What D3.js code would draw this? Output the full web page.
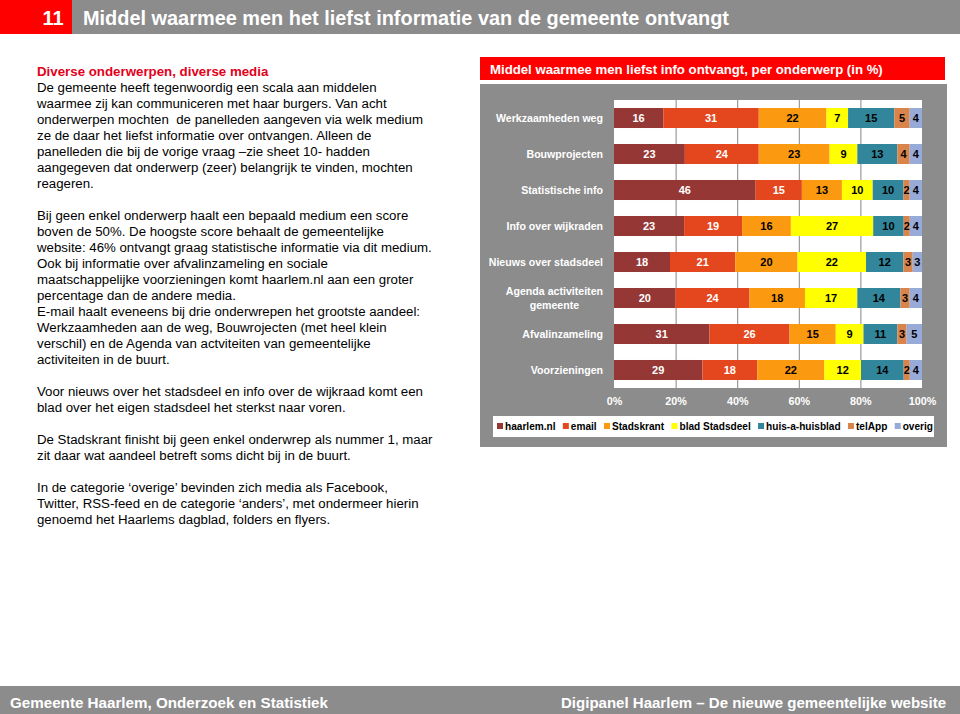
<!DOCTYPE html>
<html><head><meta charset="utf-8">
<script src="https://cdn.jsdelivr.net/npm/d3@7"></script>
<style>
html,body{margin:0;padding:0;background:#fff;}
svg{display:block;font-family:"Liberation Sans",Arial,sans-serif;}
</style></head>
<body>
<svg id="c" width="960" height="714"></svg>
<script>
const categories = ["Werkzaamheden weg","Bouwprojecten","Statistische info","Info over wijkraden","Nieuws over stadsdeel","Agenda activiteiten gemeente","Afvalinzameling","Voorzieningen"];
const seriesNames = ["haarlem.nl","email","Stadskrant","blad Stadsdeel","huis-a-huisblad","telApp","overig"];
const haarlemNl    = [16,23,46,23,18,20,31,29];
const email        = [31,24,15,19,21,24,26,18];
const stadskrant   = [22,23,13,16,20,18,15,22];
const bladStadsdeel= [7,9,10,27,22,17,9,12];
const huisAanHuis  = [15,13,10,10,12,14,11,14];
const telApp       = [5,4,2,2,3,3,3,2];
const overig       = [4,4,4,4,3,4,5,4];
const tickLabels = ["0%","20%","40%","60%","80%","100%"];
const colors = ["#953735","#E4461D","#FB9A10","#FFFF00","#31869B","#D9844B","#97AAD8"];
const labelColors = ["#fff","#fff","#000","#000","#000","#000","#000"];

const leftTitle = "Diverse onderwerpen, diverse media";
const leftLines = [
 "De gemeente heeft tegenwoordig een scala aan middelen",
 "waarmee zij kan communiceren met haar burgers. Van acht",
 "onderwerpen mochten  de panelleden aangeven via welk medium",
 "ze de daar het liefst informatie over ontvangen. Alleen de",
 "panelleden die bij de vorige vraag \u2013zie sheet 10- hadden",
 "aangegeven dat onderwerp (zeer) belangrijk te vinden, mochten",
 "reageren.",
 "",
 "Bij geen enkel onderwerp haalt een bepaald medium een score",
 "boven de 50%. De hoogste score behaalt de gemeentelijke",
 "website: 46% ontvangt graag statistische informatie via dit medium.",
 "Ook bij informatie over afvalinzameling en sociale",
 "maatschappelijke voorzieningen komt haarlem.nl aan een groter",
 "percentage dan de andere media.",
 "E-mail haalt eveneens bij drie onderwrepen het grootste aandeel:",
 "Werkzaamheden aan de weg, Bouwrojecten (met heel klein",
 "verschil) en de Agenda van actviteiten van gemeentelijke",
 "activiteiten in de buurt.",
 "",
 "Voor nieuws over het stadsdeel en info over de wijkraad komt een",
 "blad over het eigen stadsdeel het sterkst naar voren.",
 "",
 "De Stadskrant finisht bij geen enkel onderwrep als nummer 1, maar",
 "zit daar wat aandeel betreft soms dicht bij in de buurt.",
 "",
 "In de categorie \u2018overige\u2019 bevinden zich media als Facebook,",
 "Twitter, RSS-feed en de categorie \u2018anders\u2019, met ondermeer hierin",
 "genoemd het Haarlems dagblad, folders en flyers."
];

const svg = d3.select("#c");
const grey = "#8C8C8C";

// Header
svg.append("rect").attr("x",0).attr("y",0).attr("width",72).attr("height",34).attr("fill","#FF0000");
svg.append("rect").attr("x",72).attr("y",0).attr("width",888).attr("height",34).attr("fill",grey);
svg.append("text").attr("x",53).attr("y",25).attr("text-anchor","middle").attr("fill","#fff")
  .attr("font-size",20).attr("font-weight","bold").text("11");
svg.append("text").attr("x",83).attr("y",25).attr("fill","#fff").attr("font-size",20).attr("font-weight","bold")
  .attr("textLength",646).attr("lengthAdjust","spacingAndGlyphs")
  .text("Middel waarmee men het liefst informatie van de gemeente ontvangt");

// Footer
svg.append("rect").attr("x",0).attr("y",686).attr("width",960).attr("height",28).attr("fill",grey);
svg.append("text").attr("x",10).attr("y",708).attr("fill","#fff").attr("font-size",15).attr("font-weight","bold")
  .attr("textLength",318).attr("lengthAdjust","spacingAndGlyphs").text("Gemeente Haarlem, Onderzoek en Statistiek");
svg.append("text").attr("x",561).attr("y",708).attr("fill","#fff").attr("font-size",15).attr("font-weight","bold")
  .attr("textLength",385).attr("lengthAdjust","spacingAndGlyphs").text("Digipanel Haarlem \u2013 De nieuwe gemeentelijke website");

// Left text
svg.append("text").attr("x",37).attr("y",75.5).attr("fill","#E3001B").attr("font-size",13.3).attr("font-weight","bold").text(leftTitle);
const lt = svg.append("g").attr("font-size",13.25).attr("fill","#000");
leftLines.forEach((l,i)=>{ if(l) lt.append("text").attr("x",37).attr("y",75.5+(i+1)*16).attr("xml:space","preserve").text(l); });

// Chart panel
svg.append("rect").attr("x",480).attr("y",57).attr("width",465).attr("height",23).attr("fill","#FF0000");
svg.append("text").attr("x",490).attr("y",73.5).attr("fill","#fff").attr("font-size",13.2).attr("font-weight","bold")
  .text("Middel waarmee men liefst info ontvangt, per onderwerp (in %)");
svg.append("rect").attr("x",480).attr("y",84).attr("width",467).attr("height",363).attr("fill",grey);

const x = d3.scaleLinear().domain([0,1]).range([614,922]);
const y = d3.scaleBand().domain(categories).range([100,388]).paddingInner(0.444).paddingOuter(0.222);
svg.append("rect").attr("x",614).attr("y",100).attr("width",308).attr("height",288).attr("fill","#fff");

// grid
const xAxis = d3.axisBottom(x).tickValues([0,0.2,0.4,0.6,0.8,1]).tickFormat((d,i)=>tickLabels[i]).tickSize(0).tickPadding(9);
svg.append("g").selectAll("line").data([0.2,0.4,0.6,0.8]).join("line")
  .attr("x1",d=>x(d)+0.5).attr("x2",d=>x(d)+0.5).attr("y1",100).attr("y2",388).attr("stroke","#868686").attr("stroke-width",1);

const seriesArr = [haarlemNl,email,stadskrant,bladStadsdeel,huisAanHuis,telApp,overig];
const rows = categories.map((c,i)=>{ const o={cat:c}; seriesNames.forEach((s,j)=>o[s]=seriesArr[j][i]); return o; });
const stack = d3.stack().keys(seriesNames).offset(d3.stackOffsetExpand)(rows);

stack.forEach((layer,j)=>{
  const g = svg.append("g");
  g.selectAll("rect").data(layer).join("rect")
    .attr("x",d=>x(d[0])).attr("width",d=>x(d[1])-x(d[0]))
    .attr("y",d=>y(d.data.cat)).attr("height",y.bandwidth()).attr("fill",colors[j]);
  g.selectAll("text").data(layer).join("text")
    .attr("x",d=>(x(d[0])+x(d[1]))/2).attr("y",d=>y(d.data.cat)+y.bandwidth()/2+4)
    .attr("text-anchor","middle").attr("font-size",11).attr("font-weight","bold").attr("fill",labelColors[j])
    .text(d=>d.data[seriesNames[j]]);
});

// axis
const ax = svg.append("g").attr("transform","translate(0,388)").call(xAxis);
ax.select(".domain").remove();
ax.selectAll("text").attr("fill","#fff").attr("font-size",10.8).attr("font-weight","bold").attr("font-family","Liberation Sans, Arial, sans-serif");

// category labels
const cl = svg.append("g").attr("font-size",10.6).attr("font-weight","bold").attr("fill","#fff");
categories.forEach(c=>{
  const cy = y(c)+y.bandwidth()/2;
  if(c==="Agenda activiteiten gemeente"){
    const t1 = cl.append("text").attr("text-anchor","middle").attr("y",cy-3).text("Agenda activiteiten");
    const w = t1.node().getComputedTextLength();
    t1.attr("x",603-w/2);
    cl.append("text").attr("text-anchor","middle").attr("x",603-w/2).attr("y",cy+11).text("gemeente");
  } else {
    cl.append("text").attr("text-anchor","end").attr("x",603).attr("y",cy+4).text(c);
  }
});

// legend
svg.append("rect").attr("x",493).attr("y",416).attr("width",441).attr("height",21).attr("fill","#fff");
const lg = svg.append("g").attr("font-size",10.1).attr("font-weight","bold");
const items = seriesNames.map((s,j)=>{
  const m = lg.append("rect").attr("y",423).attr("width",6).attr("height",6).attr("fill",colors[j]);
  const t = lg.append("text").attr("y",430).attr("fill","#000").text(s);
  return {m,t,w:t.node().getComputedTextLength()};
});
const totalW = d3.sum(items,d=>d.w) + items.length*8;
const gap = (933-497-totalW)/(items.length-1);
let lx = 497;
items.forEach(it=>{
  it.m.attr("x",lx); it.t.attr("x",lx+8);
  lx += 8 + it.w + gap;
});
</script>
</body></html>
